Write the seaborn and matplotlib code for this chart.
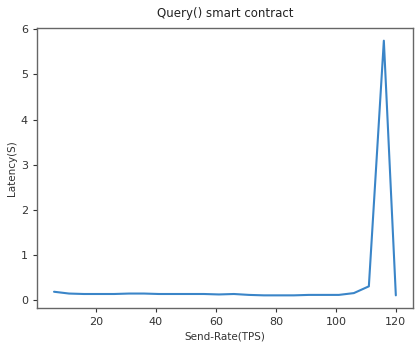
import matplotlib
matplotlib.use("Agg")
import matplotlib.pyplot as plt
import seaborn as sns
import pandas as pd

send_rate = [6, 11, 16, 21, 26, 31, 36, 41, 46, 51, 56, 61, 66, 71, 76, 81, 86, 91, 96, 101, 106, 111, 116, 120]
latency = [0.18, 0.14, 0.13, 0.13, 0.13, 0.14, 0.14, 0.13, 0.13, 0.13, 0.13, 0.12, 0.13, 0.11, 0.10,
           0.10, 0.10, 0.11, 0.11, 0.11, 0.15, 0.30, 5.75, 0.10]
x_ticks = [20, 40, 60, 80, 100, 120]
y_ticks = [0, 1, 2, 3, 4, 5, 6]

sns.set_style("ticks")
plt.rcParams['font.family'] = ['DejaVu Sans']

df = pd.DataFrame({"Send-Rate(TPS)": send_rate, "Latency(S)": latency})

fig = plt.figure(figsize=(4.15, 3.45), dpi=100)
ax = fig.add_axes([0.089, 0.107, 0.906, 0.812])
sns.lineplot(data=df, x="Send-Rate(TPS)", y="Latency(S)", ax=ax, color="#3a85c8", linewidth=1.5)
ax.set_xticks(x_ticks)
ax.set_yticks(y_ticks)
ax.tick_params(labelsize=8, colors="#333333", length=3)
for s in ax.spines.values():
    s.set_color("#666666")
    s.set_linewidth(1.0)
ax.set_xlabel("Send-Rate(TPS)", fontsize=7.5, color="#333333", labelpad=3)
ax.set_ylabel("Latency(S)", fontsize=7.5, color="#333333", labelpad=2.5)
ax.set_title("Query() smart contract", fontsize=8.5, color="#222222", pad=8)
fig.savefig("out.png", dpi=100)
